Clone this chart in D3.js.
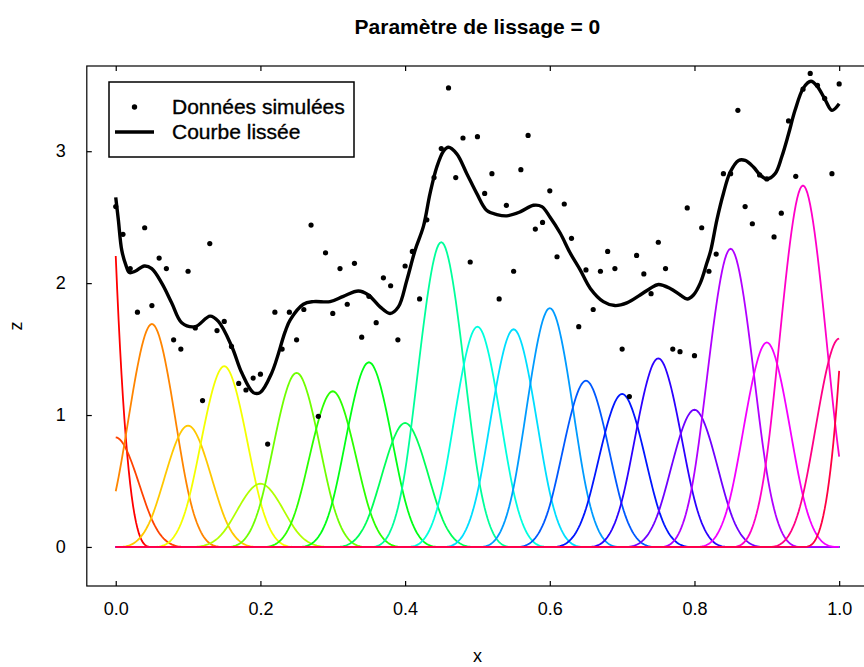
<!DOCTYPE html>
<html><head><meta charset="utf-8">
<script src="https://cdn.jsdelivr.net/npm/d3@7"></script>
<style>
body{margin:0;background:#fff}
svg{display:block}
text{font-family:"Liberation Sans",Arial,Helvetica,sans-serif}
</style>
</head><body>
<svg id="c" width="864" height="667"></svg>
<script>
// ---- data ----
const obsX = [0.00,0.01,0.02,0.03,0.04,0.05,0.06,0.07,0.08,0.09,
  0.10,0.11,0.12,0.13,0.14,0.15,0.16,0.17,0.18,0.19,
  0.20,0.21,0.22,0.23,0.24,0.25,0.26,0.27,0.28,0.29,
  0.30,0.31,0.32,0.33,0.34,0.35,0.36,0.37,0.38,0.39,
  0.40,0.41,0.42,0.43,0.44,0.45,0.46,0.47,0.48,0.49,
  0.50,0.51,0.52,0.53,0.54,0.55,0.56,0.57,0.58,0.59,
  0.60,0.61,0.62,0.63,0.64,0.65,0.66,0.67,0.68,0.69,
  0.70,0.71,0.72,0.73,0.74,0.75,0.76,0.77,0.78,0.79,
  0.80,0.81,0.82,0.83,0.84,0.85,0.86,0.87,0.88,0.89,
  0.90,0.91,0.92,0.93,0.94,0.95,0.96,0.97,0.98,0.99,1.00];
const obsZ = [2.58,2.37,2.11,1.78,2.42,1.83,2.19,2.11,1.57,1.50,
  2.09,1.66,1.11,2.30,1.64,1.71,1.52,1.24,1.19,1.28,
  1.31,0.78,1.78,1.50,1.78,1.57,1.80,2.44,0.99,2.23,
  1.77,2.11,1.84,2.15,1.59,1.90,1.70,2.04,1.98,1.57,
  2.13,2.24,1.88,2.48,2.80,3.02,3.48,2.80,3.10,2.16,
  3.11,2.68,2.83,1.88,2.59,2.09,2.86,3.12,2.41,2.46,
  2.70,2.20,2.60,2.34,1.67,2.10,1.80,2.09,2.24,2.11,
  1.50,1.14,2.21,2.07,1.92,2.31,2.11,1.50,1.48,2.57,
  1.45,2.42,2.09,2.22,2.83,2.83,3.31,2.58,2.45,2.82,
  2.79,2.35,2.53,3.23,2.81,3.47,3.59,3.50,3.40,2.83,3.51];

const fitX = [0,0.0036,0.0083,0.0138,0.0188,0.0267,0.0395,0.0498,0.0636,0.0774,
  0.0912,0.1096,0.1304,0.1419,0.1604,0.1742,0.1902,0.1995,0.2157,0.2341,
  0.2410,0.2594,0.2732,0.2963,0.3147,0.3354,0.3493,0.3654,0.3792,0.3907,
  0.4023,0.4138,0.4253,0.4345,0.4438,0.4530,0.4598,0.4714,0.4853,0.4990,
  0.5130,0.5268,0.5406,0.5590,0.5774,0.5890,0.6004,0.6143,0.6280,0.6420,
  0.6560,0.6740,0.6900,0.7065,0.7249,0.7387,0.7502,0.7664,0.7803,0.7900,
  0.7986,0.8080,0.8170,0.8226,0.8310,0.8400,0.8493,0.8610,0.8700,0.8815,
  0.8908,0.9000,0.9115,0.9208,0.9300,0.9390,0.9507,0.9610,0.9700,0.9807,
  0.9900,1.0000];
const fitZ = [2.65,2.48,2.25,2.14,2.08,2.09,2.13,2.11,2.00,1.85,
  1.70,1.67,1.75,1.71,1.52,1.32,1.17,1.17,1.32,1.63,
  1.72,1.84,1.86,1.86,1.90,1.94,1.91,1.82,1.77,1.82,
  2.02,2.25,2.43,2.68,2.88,3.00,3.03,2.98,2.83,2.68,
  2.55,2.52,2.51,2.54,2.59,2.58,2.50,2.38,2.23,2.10,
  1.96,1.86,1.83,1.85,1.91,1.96,1.99,1.96,1.91,1.88,
  1.91,2.00,2.15,2.25,2.48,2.68,2.84,2.93,2.93,2.88,
  2.82,2.79,2.83,2.96,3.13,3.31,3.48,3.53,3.49,3.39,
  3.31,3.36];

const basisCenters = [-0.05,0.00,0.05,0.10,0.15,0.20,0.25,0.30,0.35,0.40,0.45,0.50,
  0.55,0.60,0.65,0.70,0.75,0.80,0.85,0.90,0.95,1.00,1.05];
const basisHeights = [8.82,0.83,1.69,0.92,1.37,0.48,1.32,1.18,1.40,0.94,2.31,1.67,
  1.65,1.81,1.26,1.16,1.43,1.04,2.26,1.55,2.74,1.58,5.34];
const knotStep = 0.05;

const xTicks = [0,0.2,0.4,0.6,0.8,1.0];
const yTicks = [0,1,2,3];
const title = "Paramètre de lissage = 0";
const legendLabels = ["Données simulées","Courbe lissée"];

// ---- drawing ----
const svg = d3.select("#c");
const L = 86.8, R = 868.1, T = 66, B = 586;
const x = d3.scaleLinear().domain([-0.04,1.04]).range([L,R]);
const y = d3.scaleLinear().domain([-0.296,3.646]).range([B,T]);

svg.append("rect").attr("width",864).attr("height",667).attr("fill","#fff");

// cubic B-spline shape (normalised to 1 at its centre)
function bspl(u){
  const a = Math.abs(u);
  if (a < 1) return 1 - 1.5*a*a + 0.75*a*a*a;
  if (a < 2) return Math.pow(2-a,3)/4;
  return 0;
}
const grid = d3.range(0, 1.0001, 0.002);
const line = d3.line().x(d=>x(d[0])).y(d=>y(d[1]));
const gB = svg.append("g");
basisCenters.forEach((c,i)=>{
  const col = d3.hsl(360*i/basisCenters.length, 1, 0.5).formatHex();
  const pts = grid.map(g=>[g, basisHeights[i]*bspl((g-c)/knotStep)]);
  gB.append("path").attr("d",line(pts)).attr("fill","none")
    .attr("stroke",col).attr("stroke-width",1.8);
});

// observations
svg.append("g").selectAll("circle").data(obsX.map((v,i)=>[v,obsZ[i]]))
  .join("circle").attr("cx",d=>x(d[0])).attr("cy",d=>y(d[1])).attr("r",2.6).attr("fill","#000");

// fitted curve
const fitLine = d3.line().x(d=>x(d[0])).y(d=>y(d[1])).curve(d3.curveCatmullRom.alpha(0.5));
svg.append("path").attr("d",fitLine(fitX.map((v,i)=>[v,fitZ[i]])))
  .attr("fill","none").attr("stroke","#000").attr("stroke-width",3.4).attr("stroke-linejoin","round");

// box
svg.append("rect").attr("x",L).attr("y",T).attr("width",R-L).attr("height",B-T)
  .attr("fill","none").attr("stroke","#000").attr("stroke-width",1.2);

// axes (inward ticks)
const ax = svg.append("g").attr("transform",`translate(0,${B})`)
  .call(d3.axisBottom(x).tickValues(xTicks).tickFormat(d3.format(".1f")).tickSize(-5).tickPadding(16));
const axT = svg.append("g").attr("transform",`translate(0,${T})`)
  .call(d3.axisTop(x).tickValues(xTicks).tickFormat("").tickSize(-5));
const ay = svg.append("g").attr("transform",`translate(${L},0)`)
  .call(d3.axisLeft(y).tickValues(yTicks).tickFormat(d3.format("d")).tickSize(-5).tickPadding(21));
[ax,axT,ay].forEach(g=>{
  g.select(".domain").remove();
  g.selectAll("line").attr("stroke","#000").attr("stroke-width",1.2);
  g.selectAll("text").attr("font-size",18).attr("fill","#000")
   .style("font-family",'"Liberation Sans",Arial,sans-serif');
});

// titles
svg.append("text").attr("x",(L+R)/2).attr("y",34).attr("text-anchor","middle")
  .attr("font-size",21).attr("font-weight","bold").text(title);
svg.append("text").attr("x",(L+R)/2).attr("y",662).attr("text-anchor","middle")
  .attr("font-size",18).text("x");
svg.append("text").attr("transform","translate(22,326) rotate(-90)").attr("text-anchor","middle")
  .attr("font-size",18).text("z");

// legend
const lg = svg.append("g");
lg.append("rect").attr("x",109).attr("y",82).attr("width",245).attr("height",75)
  .attr("fill","#fff").attr("stroke","#000").attr("stroke-width",1.5);
lg.append("circle").attr("cx",134.5).attr("cy",107).attr("r",2.7).attr("fill","#000");
lg.append("line").attr("x1",115).attr("x2",154).attr("y1",132).attr("y2",132)
  .attr("stroke","#000").attr("stroke-width",3.4);
legendLabels.forEach((t,i)=>{
  lg.append("text").attr("x",172).attr("y",107+25*i).attr("dy","0.35em")
    .attr("font-size",21).attr("stroke","#000").attr("stroke-width",0.35).text(t);
});
</script>
</body></html>
